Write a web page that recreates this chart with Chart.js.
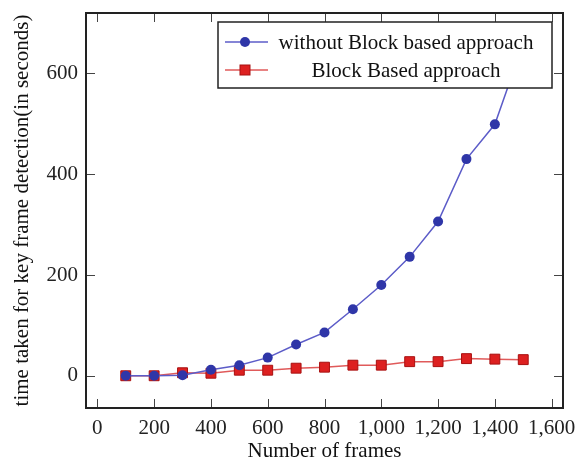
<!DOCTYPE html>
<html lang="en">
<head>
<meta charset="UTF-8">
<title>Key frame detection time</title>
<script src="https://cdn.jsdelivr.net/npm/chart.js"></script>
<style>
  body { margin: 0; background: #fff; }
  .chart-box { width: 581px; height: 464px; }
</style>
</head>
<body>
<div class="chart-box"><canvas id="timeChart"></canvas></div>
<script>
// values
const frames       = [100, 200, 300, 400, 500, 600, 700, 800, 900, 1000, 1100, 1200, 1300, 1400, 1500];
const withoutBlock = [0, 0, 1, 12, 21, 36, 62, 86, 132, 180, 236, 306, 430, 499, 660];
const blockBased   = [0, 0, 6, 5, 11, 11, 15, 17, 21, 21, 28, 28, 34, 33, 32];
const xTicks = [0, 200, 400, 600, 800, 1000, 1200, 1400, 1600];
const yTicks = [0, 200, 400, 600];
const seriesNames = ["without Block based approach", "Block Based approach"];

const serif = "'Liberation Serif', 'DejaVu Serif', serif";
Chart.defaults.font.family = serif;
Chart.defaults.font.size = 21;
Chart.defaults.color = "#222";

const blue = { line: "#5c5cc8", fill: "#2f36a8" };
const red  = { line: "#e05a5a", fill: "#dd2020", edge: "#a81010" };

// pgfplots-like frame with inward ticks on all four sides
const frameTicks = {
    id: "frameTicks",
    afterDatasetsDraw(chart) {
        const { ctx, chartArea: a, scales } = chart;
        const len = 9;
        ctx.save();
        ctx.strokeStyle = "#444";
        ctx.lineWidth = 1;
        ctx.beginPath();
        xTicks.forEach(v => {
            const px = Math.round(scales.x.getPixelForValue(v)) + 0.5;
            ctx.moveTo(px, a.bottom); ctx.lineTo(px, a.bottom - len);
            ctx.moveTo(px, a.top);    ctx.lineTo(px, a.top + len);
        });
        yTicks.forEach(v => {
            const py = Math.round(scales.y.getPixelForValue(v)) + 0.5;
            ctx.moveTo(a.left, py);  ctx.lineTo(a.left + len, py);
            ctx.moveTo(a.right, py); ctx.lineTo(a.right - len, py);
        });
        ctx.stroke();
        ctx.strokeStyle = "#222";
        ctx.lineWidth = 2;
        ctx.strokeRect(a.left, a.top, a.right - a.left, a.bottom - a.top);
        ctx.restore();
    }
};

// legend box drawn inside the plot, top right
const boxLegend = {
    id: "boxLegend",
    afterDraw(chart) {
        const { ctx, chartArea: a } = chart;
        const w = 334, h = 66;
        const left = a.right - 11 - w, top = a.top + 9;
        ctx.save();
        ctx.fillStyle = "#fff";
        ctx.fillRect(left, top, w, h);
        ctx.strokeStyle = "#222";
        ctx.lineWidth = 1.5;
        ctx.strokeRect(left, top, w, h);

        chart.data.datasets.forEach((ds, i) => {
            const cy = top + 20 + i * 28;
            ctx.strokeStyle = ds.borderColor;
            ctx.lineWidth = 1.5;
            ctx.beginPath();
            ctx.moveTo(left + 7, cy);
            ctx.lineTo(left + 50, cy);
            ctx.stroke();
            ctx.fillStyle = ds.pointBackgroundColor;
            ctx.strokeStyle = ds.pointBorderColor;
            ctx.lineWidth = 1;
            if (ds.pointStyle === "rect") {
                ctx.fillRect(left + 22, cy - 5, 10, 10);
                ctx.strokeRect(left + 22, cy - 5, 10, 10);
            } else {
                ctx.beginPath();
                ctx.arc(left + 27, cy, 5, 0, Math.PI * 2);
                ctx.fill();
            }
            ctx.fillStyle = "#111";
            ctx.font = "21px " + serif;
            ctx.textAlign = "center";
            ctx.textBaseline = "middle";
            ctx.fillText(ds.label, left + 188, cy + 1);
        });
        ctx.restore();
    }
};

new Chart(document.getElementById("timeChart"), {
    type: "line",
    data: {
        datasets: [
            {
                label: seriesNames[0],
                data: frames.map((f, i) => ({ x: f, y: withoutBlock[i] })),
                borderColor: blue.line,
                borderWidth: 1.5,
                pointStyle: "circle",
                pointRadius: 5,
                pointBackgroundColor: blue.fill,
                pointBorderColor: blue.fill,
                pointBorderWidth: 0
            },
            {
                label: seriesNames[1],
                data: frames.map((f, i) => ({ x: f, y: blockBased[i] })),
                borderColor: red.line,
                borderWidth: 1.5,
                pointStyle: "rect",
                pointRadius: 7,
                pointBackgroundColor: red.fill,
                pointBorderColor: red.edge,
                pointBorderWidth: 1
            }
        ]
    },
    options: {
        responsive: true,
        maintainAspectRatio: false,
        animation: false,
        layout: { padding: { top: 13, right: 18, left: 6, bottom: 0 } },
        plugins: { legend: { display: false }, tooltip: { enabled: false } },
        scales: {
            x: {
                type: "linear",
                min: -40,
                max: 1640,
                afterBuildTicks: s => { s.ticks = xTicks.map(v => ({ value: v })); },
                afterFit: s => { s.height = 56; s.paddingLeft = 0; s.paddingRight = 0; },
                grid: { display: false, drawTicks: false },
                border: { display: false },
                ticks: { padding: 8, maxRotation: 0, color: "#222" },
                title: { display: true, text: "Number of frames", padding: { top: 0, bottom: 0 }, color: "#111" }
            },
            y: {
                min: -64,
                max: 720,
                afterBuildTicks: s => { s.ticks = yTicks.map(v => ({ value: v })); },
                afterFit: s => { s.width = 80; s.paddingTop = 0; s.paddingBottom = 0; },
                grid: { display: false, drawTicks: false },
                border: { display: false },
                ticks: { padding: 8, color: "#222" },
                title: { display: true, text: "time taken for key frame detection(in seconds)", padding: { top: 4, bottom: 2 }, color: "#111" }
            }
        }
    },
    plugins: [frameTicks, boxLegend]
});
</script>
</body>
</html>
